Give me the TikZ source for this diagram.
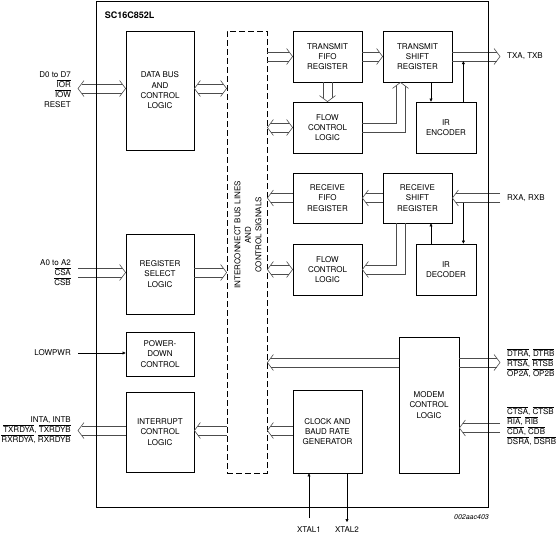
\documentclass[tikz,border=0pt]{standalone}
\usepackage{fontspec}
\setmainfont{TeX Gyre Heros}
\usetikzlibrary{calc}
\usetikzlibrary{arrows.meta}
\usetikzlibrary{positioning}

\newcommand{\ovl}[1]{$\overline{\mbox{#1}}$}
% hollow bus: two parallel lines, horizontal or vertical
\newcommand{\hbus}[3][]{%
  \draw[edge, #1, transform canvas={yshift=4.7pt}] (#2) -- (#3);
  \draw[edge, #1, transform canvas={yshift=-4.7pt}] (#2) -- (#3);}
\newcommand{\vbus}[3][]{%
  \draw[edge, #1, transform canvas={xshift=4.7pt}] (#2) -- (#3);
  \draw[edge, #1, transform canvas={xshift=-4.7pt}] (#2) -- (#3);}

\tikzset{
  blk/.style={draw, line width=0.8pt, fill=white, align=center, inner sep=0pt,
    font=\fontsize{8}{10.3}\selectfont},
  lbl/.style={inner sep=0pt, font=\fontsize{8}{10}\selectfont},
  edge/.style={draw=black!70, line width=0.6pt},
  sig/.style={line width=0.5pt, -{Triangle[length=3pt,width=3pt]}},
  endA/.style={shorten >=3.5pt},
  endB/.style={shorten <=3.5pt},
  chev/.pic={\draw[edge] (-6,8) -- (0,0) -- (-6,-8);},
}

\begin{document}
\begin{tikzpicture}[x=1pt,y=-1pt]
        \useasboundingbox (0,0) rectangle (559,536);

        % left column
        \node[blk, minimum width=68, minimum height=119] (dbus) at (160,90.5) {DATA BUS\\AND\\CONTROL\\LOGIC};
        \node[blk, minimum width=68, minimum height=80] (regsel) at (160,274) {REGISTER\\SELECT\\LOGIC};
        \node[blk, minimum width=68, minimum height=44] (pwr) at (160,354) {POWER-\\DOWN\\CONTROL};
        \node[blk, minimum width=68, minimum height=80] (intr) at (160,432) {INTERRUPT\\CONTROL\\LOGIC};

        % interconnect
        \node[draw, line width=0.8pt, dash pattern=on 6pt off 3pt, minimum width=40, minimum height=442] (bus) at (247,252) {};
        \node[lbl, rotate=90, align=center, font=\fontsize{8}{10.5}\selectfont] (bustxt) at (248,235) {INTERCONNECT BUS LINES\\AND\\CONTROL SIGNALS};

        % transmit side
        \node[blk, minimum width=69, minimum height=51] (txfifo) at (327.5,56.5) {TRANSMIT\\FIFO\\REGISTER};
        \node[blk, minimum width=69, minimum height=51] (txshift) at (417.5,56.5) {TRANSMIT\\SHIFT\\REGISTER};
        \node[blk, minimum width=69, minimum height=51] (txflow) at (327.5,127.5) {FLOW\\CONTROL\\LOGIC};
        \node[blk, minimum width=60, minimum height=51] (irenc) at (446,127.5) {IR\\ENCODER};

        % receive side
        \node[blk, minimum width=69, minimum height=50] (rxfifo) at (327.5,198) {RECEIVE\\FIFO\\REGISTER};
        \node[blk, minimum width=69, minimum height=50] (rxshift) at (417.5,198) {RECEIVE\\SHIFT\\REGISTER};
        \node[blk, minimum width=69, minimum height=51] (rxflow) at (327.5,269.5) {FLOW\\CONTROL\\LOGIC};
        \node[blk, minimum width=60, minimum height=51] (irdec) at (446,269.5) {IR\\DECODER};

        % clock and modem
        \node[blk, minimum width=69, minimum height=83] (clk) at (327.5,431.5) {CLOCK AND\\BAUD RATE\\GENERATOR};
        \node[blk, minimum width=60, minimum height=136] (modem) at (429,405) {MODEM\\CONTROL\\LOGIC};

        % pins on the left
        \node[lbl, align=right, anchor=east] (lbdata) at (71,90) {D0 to D7\\\ovl{IOR}\\\ovl{IOW}\\RESET};
        \node[lbl, align=right, anchor=east] (lbaddr) at (71,273) {A0 to A2\\\ovl{CSA}\\\ovl{CSB}};
        \node[lbl, anchor=east] (lbpwr) at (71,353) {LOWPWR};
        \node[lbl, align=right, anchor=east] (lbint) at (71,430.5) {INTA, INTB\\\ovl{TXRDYA}, \ovl{TXRDYB}\\\ovl{RXRDYA}, \ovl{RXRDYB}};
        \coordinate (d0) at (78,88.5);
        \coordinate (a0) at (78,272.5);
        \coordinate (lp) at (78,353);
        \coordinate (it) at (78,430.5);

        % pins on the right
        \node[lbl, anchor=west] (lbtx) at (507,56.5) {TXA, TXB};
        \node[lbl, anchor=west] (lbrx) at (507,198) {RXA, RXB};
        \node[lbl, align=left, anchor=west] (lbmout) at (507,363) {\ovl{DTRA}, \ovl{DTRB}\\\ovl{RTSA}, \ovl{RTSB}\\\ovl{OP2A}, \ovl{OP2B}};
        \node[lbl, align=left, anchor=west] (lbmin) at (507,426.5) {\ovl{CTSA}, \ovl{CTSB}\\\ovl{RIA}, \ovl{RIB}\\\ovl{CDA}, \ovl{CDB}\\\ovl{DSRA}, \ovl{DSRB}};
        \coordinate (tx) at (500,56.5);
        \coordinate (rx) at (500,198);
        \coordinate (mo) at (500,362.5);
        \coordinate (mi) at (500,428);

        % crystal pins
        \node[lbl] (xtal1) at (309,530) {XTAL1};
        \node[lbl] (xtal2) at (347,530) {XTAL2};
        \coordinate (x1) at (309,518);
        \coordinate (x2) at (347,522);

        % left buses
        \hbus[endA, endB]{d0}{dbus.west |- d0}
        \pic[rotate=180] at (d0) {chev};
        \pic at (dbus.west |- d0) {chev};
        \hbus[endA, endB]{dbus.east |- d0}{bus.west |- d0}
        \pic[rotate=180] at (dbus.east |- d0) {chev};
        \pic at (bus.west |- d0) {chev};
        \hbus[endA]{a0}{regsel.west |- a0}
        \pic at (regsel.west |- a0) {chev};
        \hbus[endA]{regsel.east |- a0}{bus.west |- a0}
        \pic at (bus.west |- a0) {chev};
        \draw[sig] (lp) -- (pwr.west |- lp);
        \hbus[endA]{bus.west |- it}{intr.east |- it}
        \pic[rotate=180] at (intr.east |- it) {chev};
        \hbus[endA]{intr.west |- it}{it}
        \pic[rotate=180] at (it) {chev};

        % transmit buses
        \hbus[endA]{bus.east |- txfifo.west}{txfifo.west}
        \pic at (txfifo.west) {chev};
        \hbus[endA]{txfifo.east}{txshift.west}
        \pic at (txshift.west) {chev};
        \hbus[endA]{txshift.east}{tx}
        \pic at (tx) {chev};
        \vbus[endA]{txfifo.south}{txflow.north}
        \pic[rotate=-90] at (txflow.north) {chev};
        \hbus[endA, endB]{bus.east |- txflow.west}{txflow.west}
        \pic[rotate=180] at (bus.east |- txflow.west) {chev};
        \pic at (txflow.west) {chev};
        \coordinate (txup) at ($(txshift.south)+(-17,0)$);
        \draw[edge] ($(txflow.east)+(0,-4.7)$) -| ($(txup)+(-4.7,3.5)$);
        \draw[edge] ($(txflow.east)+(0,4.7)$) -| ($(txup)+(4.7,3.5)$);
        \pic[rotate=90] at (txup) {chev};
        \coordinate (txtap) at ($(txshift.east)+(11,4.7)$);
        \draw[sig] ($(txshift.south)+(13.5,0)$) -- ($(irenc.north)+(-15,0)$);
        \draw[sig] (irenc.north -| txtap) -- (txtap);

        % receive buses
        \hbus[endA]{rx}{rxshift.east}
        \pic[rotate=180] at (rxshift.east) {chev};
        \hbus[endA]{rxshift.west}{rxfifo.east}
        \pic[rotate=180] at (rxfifo.east) {chev};
        \hbus[endA]{rxfifo.west}{bus.east |- rxfifo.west}
        \pic[rotate=180] at (bus.east |- rxfifo.west) {chev};
        \hbus[endA, endB]{bus.east |- rxflow.west}{rxflow.west}
        \pic[rotate=180] at (bus.east |- rxflow.west) {chev};
        \pic at (rxflow.west) {chev};
        \coordinate (rxdown) at ($(rxshift.south)+(-17,0)$);
        \draw[edge] ($(rxdown)+(-4.7,0)$) |- ($(rxflow.east)+(3.5,-4.7)$);
        \draw[edge] ($(rxdown)+(4.7,0)$) |- ($(rxflow.east)+(3.5,4.7)$);
        \pic[rotate=180] at (rxflow.east) {chev};
        \coordinate (rxtap) at ($(rxshift.east)+(11,4.7)$);
        \draw[sig] ($(irdec.north)+(-15,0)$) -- ($(rxshift.south)+(13.5,0)$);
        \draw[sig] (rxtap) -- (irdec.north -| rxtap);

        % modem and clock
        \hbus[endA]{modem.west |- mo}{bus.east |- mo}
        \pic[rotate=180] at (bus.east |- mo) {chev};
        \hbus[endA]{modem.east |- mo}{mo}
        \pic at (mo) {chev};
        \hbus[endA]{mi}{modem.east |- mi}
        \pic[rotate=180] at (modem.east |- mi) {chev};
        \hbus[endA]{clk.west |- it}{bus.east |- it}
        \pic[rotate=180] at (bus.east |- it) {chev};
        \draw[sig] (x1) -- (clk.south -| x1);
        \draw[sig] (clk.south -| x2) -- (x2);

        % chip outline
        \node[draw, line width=0.8pt, minimum width=392, minimum height=506] (chip) at (292,254) {};
        \node[anchor=west, inner sep=0pt, font=\fontsize{9}{10}\selectfont\bfseries] (title) at ($(chip.north west)+(9,15)$) {SC16C852L};
        \node[anchor=east, inner sep=0pt, font=\fontsize{7}{8}\selectfont\itshape] (code) at (489,517) {002aac403};
\end{tikzpicture}
\end{document}
